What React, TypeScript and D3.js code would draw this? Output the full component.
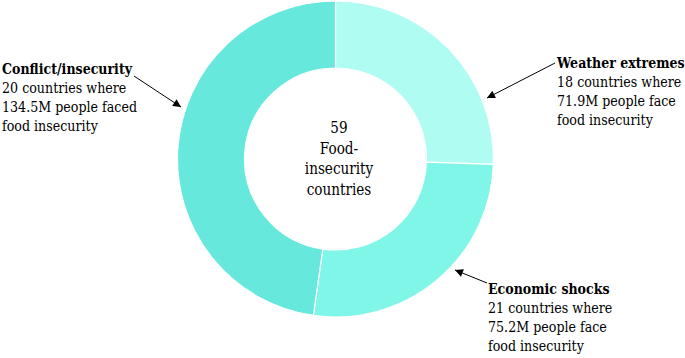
import React from "react";
import * as d3 from "d3";

const categories = ["Weather extremes", "Economic shocks", "Conflict/insecurity"];
const people = [71.9, 75.2, 134.5];
const countries = [18, 21, 20];
const colors = ["#affcf3", "#80f6e9", "#66e8dc"];
const labelLines = [
  ["18 countries where", "71.9M people face", "food insecurity"],
  ["21 countries where", "75.2M people face", "food insecurity"],
  ["20 countries where", "134.5M people faced", "food insecurity"],
];
const centerLines = ["59", "Food-", "insecurity", "countries"];

const W = 685, H = 358;
const cx = 335.5, cy = 159;
const rOuter = 158, rInner = 91;

const labelPos = [
  { x: 557, y: 68, from: [555, 63], to: [487, 98] },
  { x: 488, y: 294, from: [487, 283], to: [455, 270] },
  { x: 2, y: 74, from: [134, 76], to: [181, 107] },
];

const font = "'DejaVu Serif', serif";
const SX_REG = 0.873, SX_BOLD = 0.84, SX_CENTER = 0.85;

export default function App() {
  const data = categories.map((c, i) => ({ c, v: people[i], n: countries[i] }));
  const pie = d3.pie<any>().value((d) => d.v).sort(null).startAngle(0).endAngle(2 * Math.PI);
  const arc = d3.arc<any>().innerRadius(rInner).outerRadius(rOuter);
  const arcs = pie(data);
  return (
    <svg width={W} height={H} style={{ position: "absolute", left: 0, top: 0, background: "#fff" }}>
      <defs>
        <marker id="ah" viewBox="0 0 10 10" refX="10" refY="5" markerWidth="10" markerHeight="8" markerUnits="userSpaceOnUse" orient="auto">
          <path d="M0,0 L10,5 L0,10 z" fill="#000" />
        </marker>
      </defs>
      <g transform={`translate(${cx},${cy})`}>
        {arcs.map((a, i) => (
          <path key={i} d={arc(a) as string} fill={colors[i]} stroke="#fff" strokeWidth={1.2} />
        ))}
      </g>
      <g fontFamily={font} fontSize={16} textAnchor="middle" fill="#000">
        {centerLines.map((t, i) => (
          <text key={i} transform={`translate(339,${133 + i * 20.5}) scale(${SX_CENTER},1)`}>{t}</text>
        ))}
      </g>
      {labelPos.map((p, i) => (
        <g key={i} fontFamily={font} fill="#000">
          <line x1={p.from[0]} y1={p.from[1]} x2={p.to[0]} y2={p.to[1]} stroke="#000" strokeWidth={1} markerEnd="url(#ah)" />
          <text transform={`translate(${p.x},${p.y}) scale(${SX_BOLD},1)`} fontSize={15} fontWeight="bold">{categories[i]}</text>
          {labelLines[i].map((t, j) => (
            <text key={j} transform={`translate(${p.x},${p.y + (j + 1) * 19}) scale(${SX_REG},1)`} fontSize={14.5}>{t}</text>
          ))}
        </g>
      ))}
    </svg>
  );
}
